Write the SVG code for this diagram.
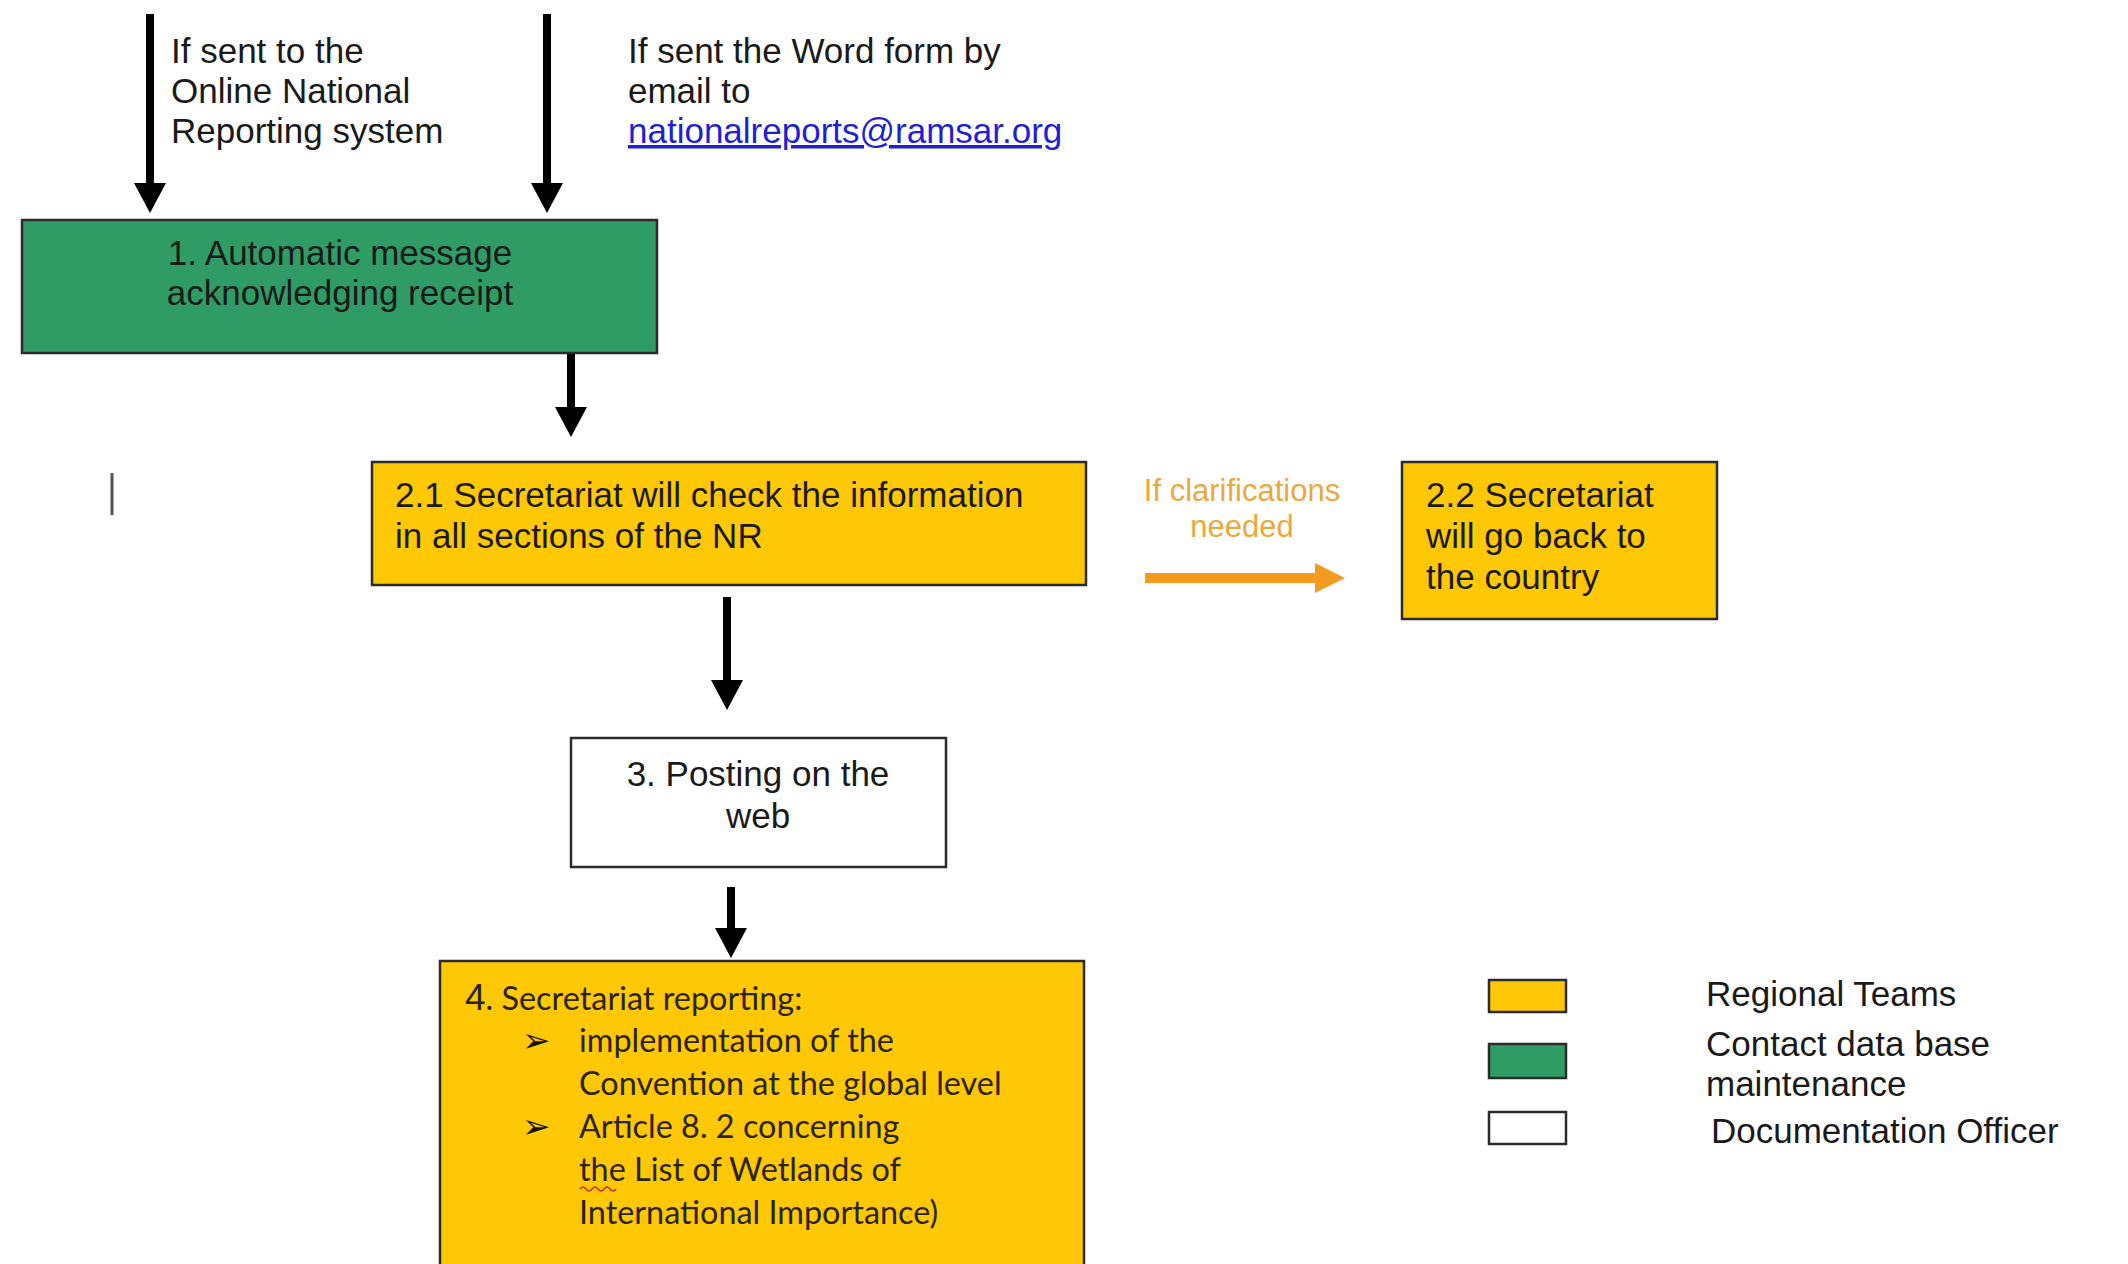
<svg xmlns="http://www.w3.org/2000/svg" width="2128" height="1264" viewBox="0 0 2128 1264">
<defs>
<style>
.t{font-family:"Liberation Sans",Arial,sans-serif;font-size:35px;fill:#1a1a1a}
.c{font-family:Lato,"Open Sans",sans-serif;font-size:32.4px;fill:#2a2410}
.o{font-family:"Liberation Sans",Arial,sans-serif;font-size:31px;fill:#eba83c}
.box{stroke:#2b2b2b;stroke-width:2.5}
.y{fill:#ffc806}
.g{fill:#2f9c65}
.w{fill:#ffffff}
.blk{stroke:#000;stroke-width:8;fill:none}
.org{stroke:#f39b1f;stroke-width:10;fill:none}
.bul{font-family:"DejaVu Sans",sans-serif;font-size:34px;fill:#111}
</style>
<marker id="ah" viewBox="0 0 30 32" markerWidth="30" markerHeight="32" refX="1" refY="16" orient="auto" markerUnits="userSpaceOnUse">
<path d="M0,0 L30,16 L0,32 z" fill="#000"/>
</marker>
<marker id="ao" viewBox="0 0 30 30" markerWidth="30" markerHeight="30" refX="1" refY="15" orient="auto" markerUnits="userSpaceOnUse">
<path d="M0,0 L30,15 L0,30 z" fill="#f39b1f"/>
</marker>
</defs>
<rect width="2128" height="1264" fill="#ffffff"/>

<g id="connectors">
<line class="blk" x1="150" y1="14" x2="150" y2="184" marker-end="url(#ah)"/>
<line class="blk" x1="547" y1="14" x2="547" y2="184" marker-end="url(#ah)"/>
<line class="blk" x1="571" y1="353" x2="571" y2="408" marker-end="url(#ah)"/>
<line class="blk" x1="727" y1="597" x2="727" y2="681" marker-end="url(#ah)"/>
<line class="blk" x1="731" y1="887" x2="731" y2="929" marker-end="url(#ah)"/>
<line class="org" x1="1145" y1="578" x2="1316" y2="578" marker-end="url(#ao)"/>
</g>

<g id="label-online">
<text class="t" x="171" y="63">If sent to the</text>
<text class="t" x="171" y="103">Online National</text>
<text class="t" x="171" y="143">Reporting system</text>
</g>
<g id="label-email">
<text class="t" x="628" y="63">If sent the Word form by</text>
<text class="t" x="628" y="103">email to</text>
<text class="t" x="628" y="143" style="fill:#1f1fd6;text-decoration:underline">nationalreports@ramsar.org</text>
</g>

<g id="node1">
<rect class="box g" x="22" y="220" width="635" height="133"/>
<text class="t" x="340" y="265" text-anchor="middle">1. Automatic message</text>
<text class="t" x="340" y="305" text-anchor="middle">acknowledging receipt</text>
</g>

<g id="cursor">
<line x1="112" y1="473" x2="112" y2="515" stroke="#555" stroke-width="3"/>
</g>

<g id="node2-1">
<rect class="box y" x="372" y="462" width="714" height="123"/>
<text class="t" x="395" y="507">2.1 Secretariat will check the information</text>
<text class="t" x="395" y="548">in all sections of the NR</text>
</g>

<g id="label-clarify">
<text class="o" x="1242" y="501" text-anchor="middle">If clarifications</text>
<text class="o" x="1242" y="537" text-anchor="middle">needed</text>
</g>

<g id="node2-2">
<rect class="box y" x="1402" y="462" width="315" height="157"/>
<text class="t" x="1426" y="507">2.2 Secretariat</text>
<text class="t" x="1426" y="548">will go back to</text>
<text class="t" x="1426" y="589">the country</text>
</g>

<g id="node3">
<rect class="box w" x="571" y="738" width="375" height="129"/>
<text class="t" x="758" y="786" text-anchor="middle">3. Posting on the</text>
<text class="t" x="758" y="828" text-anchor="middle">web</text>
</g>

<g id="node4">
<rect class="box y" x="440" y="961" width="644" height="320"/>
<text class="c" x="465" y="1010"><tspan style="font-family:'Liberation Sans',Arial,sans-serif;font-size:37px">4</tspan>. Secretariat reporting:</text>
<text class="bul" x="522" y="1052">➢</text>
<text class="c" x="579" y="1052">implementation of the</text>
<text class="c" x="579" y="1095">Convention at the global level</text>
<text class="bul" x="522" y="1138">➢</text>
<text class="c" x="579" y="1138">Article 8. 2 concerning</text>
<text class="c" x="579" y="1181">the List of Wetlands of</text>
<text class="c" x="579" y="1224">International Importance)</text>
<path d="M580,1189 q3,-4 6,0 t6,0 t6,0 t6,0 t6,0 t6,0" fill="none" stroke="#d03030" stroke-width="1.6"/>
</g>

<g id="legend">
<rect class="box y" x="1489" y="980" width="77" height="32"/>
<rect class="box g" x="1489" y="1044" width="77" height="34"/>
<rect class="box w" x="1489" y="1112" width="77" height="32"/>
<text class="t" x="1706" y="1006">Regional Teams</text>
<text class="t" x="1706" y="1056">Contact data base</text>
<text class="t" x="1706" y="1096">maintenance</text>
<text class="t" x="1711" y="1143">Documentation Officer</text>
</g>
</svg>
